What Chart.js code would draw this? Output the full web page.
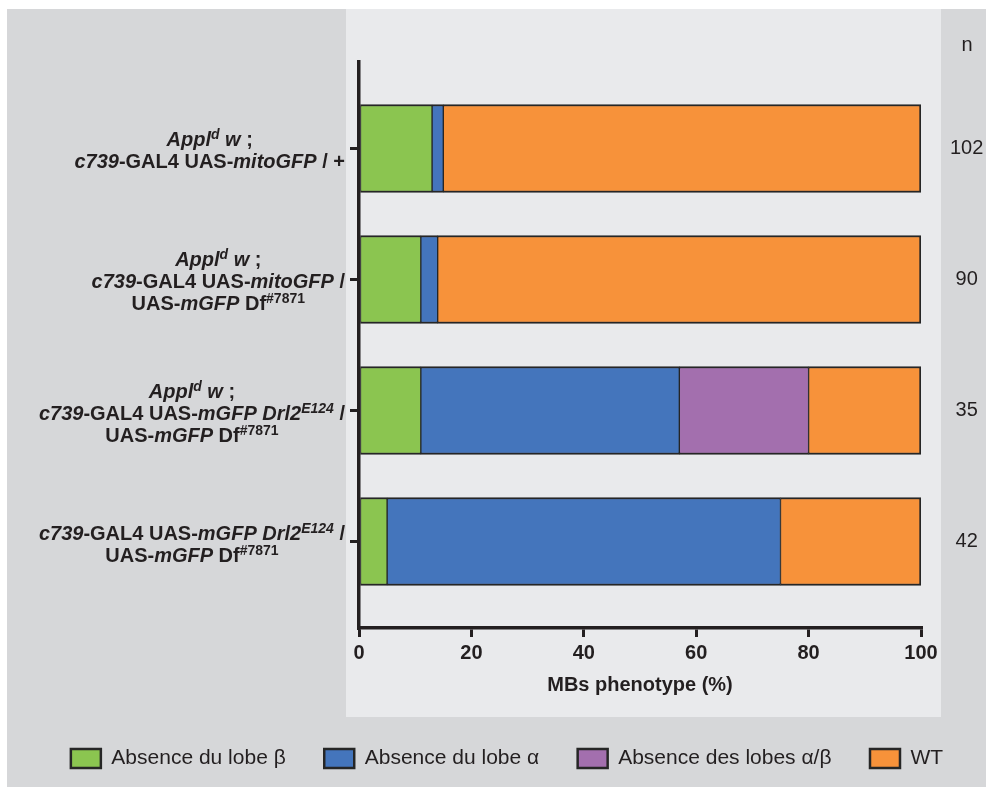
<!DOCTYPE html>
<html>
<head>
<meta charset="utf-8">
<script src="https://cdn.jsdelivr.net/npm/chart.js@4.4.1/dist/chart.umd.min.js"></script>
<style>
  html, body { margin: 0; padding: 0; background: #fff; }
</style>
</head>
<body>
<canvas id="myChart" width="986" height="787"></canvas>
<script>
// genotypes, one entry per bar, each line with *italic*, ^italic superscript^, ~superscript~
const genotipos = [
  ["*Appl*^d^ *w* ;", "*c739*-GAL4 UAS-*mitoGFP* / +"],
  ["*Appl*^d^ *w* ;", "*c739*-GAL4 UAS-*mitoGFP* /", "UAS-*mGFP* Df~#7871~"],
  ["*Appl*^d^ *w* ;", "*c739*-GAL4 UAS-*mGFP Drl2*^E124^ /", "UAS-*mGFP* Df~#7871~"],
  ["*c739*-GAL4 UAS-*mGFP Drl2*^E124^ /", "UAS-*mGFP* Df~#7871~"],
];
const nMoscas = [102, 90, 35, 42];

const nombresSeries = ["Absence du lobe β", "Absence du lobe α", "Absence des lobes α/β", "WT"];
const lobeBeta = [13, 11, 11, 5];
const lobeAlpha = [2, 3, 46, 70];
const lobesAlphaBeta = [0, 0, 23, 0];
const tipoSalvaje = [85, 86, 20, 25];
const coloresSeries = ["#8bc550", "#4475bc", "#a36fae", "#f7923a"];

const xTicks = [0, 20, 40, 60, 80, 100];

const tinta = "#231f20";
const familia = "'Liberation Sans', Arial, Helvetica, sans-serif";
Chart.defaults.font.family = familia;
Chart.defaults.color = tinta;

// the index axis is numeric so the axis lines can run past the first and last bar
const yMin = -0.66;
const yMax = 3.66;

function hacerDataset(nombre, valores, color, ultimo) {
  return {
    label: nombre,
    data: valores.map((v, i) => ({ x: v, y: i })),
    backgroundColor: color,
    borderColor: "#262626",
    borderWidth: { top: 2, bottom: 2, left: 1, right: ultimo ? 2 : 1 },
    borderSkipped: false,
    barThickness: 88,
  };
}

const datasets = [
  hacerDataset(nombresSeries[0], lobeBeta, coloresSeries[0]),
  hacerDataset(nombresSeries[1], lobeAlpha, coloresSeries[1]),
  hacerDataset(nombresSeries[2], lobesAlphaBeta, coloresSeries[2]),
  hacerDataset(nombresSeries[3], tipoSalvaje, coloresSeries[3], true),
];

function partes(linea) {
  return linea.split(/(\*[^*]+\*|\^[^^]+\^|~[^~]+~)/).filter(Boolean).map((t) => {
    if (t[0] === "*") return { t: t.slice(1, -1), it: true, sup: false };
    if (t[0] === "^") return { t: t.slice(1, -1), it: true, sup: true };
    if (t[0] === "~") return { t: t.slice(1, -1), it: false, sup: true };
    return { t, it: false, sup: false };
  });
}

function fuente(p) {
  return (p.it ? "italic " : "") + "bold " + (p.sup ? 14 : 20) + "px " + familia;
}

const fondo = {
  id: "fondo",
  beforeDraw(chart) {
    const ctx = chart.ctx;
    const area = chart.chartArea;
    ctx.save();
    ctx.fillStyle = "#d6d7d9";
    ctx.fillRect(7, 9, chart.width - 7, chart.height - 9);
    ctx.fillStyle = "#e9eaec";
    ctx.fillRect(area.left - 13, 9, area.right - area.left + 33, 708);
    ctx.restore();
  },
};

const etiquetas = {
  id: "etiquetas",
  afterDraw(chart) {
    const ctx = chart.ctx;
    const y = chart.scales.y;
    const derecha = y.right - 14;
    const interlinea = 22;
    ctx.save();
    ctx.fillStyle = tinta;
    ctx.textBaseline = "alphabetic";
    ctx.textAlign = "left";
    genotipos.forEach((lineas, i) => {
      const centro = y.getPixelForValue(i);
      const medidas = lineas.map((l) => {
        const ps = partes(l);
        let ancho = 0;
        ps.forEach((p) => {
          ctx.font = fuente(p);
          p.w = ctx.measureText(p.t).width;
          ancho += p.w;
        });
        return { ps, ancho };
      });
      const maxAncho = Math.max(...medidas.map((m) => m.ancho));
      const centroX = derecha - maxAncho / 2;
      medidas.forEach((m, k) => {
        const base = centro + (k - (lineas.length - 1) / 2) * interlinea + 9;
        let x = centroX - m.ancho / 2;
        m.ps.forEach((p) => {
          ctx.font = fuente(p);
          ctx.fillText(p.t, x, p.sup ? base - 7 : base);
          x += p.w;
        });
      });
    });
    // column header for the counts
    ctx.font = "20px " + familia;
    ctx.textAlign = "center";
    ctx.textBaseline = "middle";
    ctx.fillText("n", 967, 45);
    ctx.restore();
  },
};

const config = {
  type: "bar",
  data: { datasets },
  options: {
    indexAxis: "y",
    responsive: false,
    animation: false,
    layout: { padding: { left: 28, top: 62, right: 0, bottom: 8 } },
    scales: {
      x: {
        type: "linear",
        stacked: true,
        min: 0,
        max: 100,
        afterBuildTicks: (s) => { s.ticks = xTicks.map((v) => ({ value: v })); },
        afterFit: (s) => { s.height = 81.5; },
        grid: { drawOnChartArea: false, tickLength: 9, color: tinta, lineWidth: 3 },
        border: { color: tinta, width: 3.5 },
        ticks: { color: tinta, padding: 4, font: { size: 20, weight: "bold" } },
        title: {
          display: true,
          text: "MBs phenotype (%)",
          color: tinta,
          font: { size: 20, weight: "bold" },
          padding: { top: 0, bottom: 12 },
        },
      },
      y: {
        type: "linear",
        stacked: true,
        reverse: true,
        offset: false,
        min: yMin,
        max: yMax,
        afterBuildTicks: (s) => { s.ticks = genotipos.map((g, i) => ({ value: i })); },
        afterFit: (s) => { s.width = 331; },
        ticks: { display: false },
        grid: { offset: false, drawOnChartArea: false, tickLength: 9, color: tinta, lineWidth: 3 },
        border: { color: tinta, width: 3.5 },
      },
      n: {
        type: "linear",
        position: "right",
        reverse: true,
        offset: false,
        min: yMin,
        max: yMax,
        afterBuildTicks: (s) => { s.ticks = nMoscas.map((v, i) => ({ value: i })); },
        afterFit: (s) => { s.width = 65; },
        grid: { display: false, offset: false, drawTicks: false },
        border: { display: false },
        ticks: {
          callback: (v) => nMoscas[v],
          crossAlign: "center",
          padding: 29,
          color: tinta,
          font: { size: 20 },
        },
      },
    },
    plugins: {
      tooltip: { enabled: false },
      legend: {
        position: "bottom",
        labels: {
          boxWidth: 30,
          boxHeight: 19,
          padding: 38.5,
          color: tinta,
          font: { size: 21 },
          generateLabels: (chart) =>
            Chart.defaults.plugins.legend.labels.generateLabels(chart).map((l) => ({ ...l, lineWidth: 2.5 })),
        },
      },
    },
  },
  plugins: [fondo, etiquetas],
};

new Chart(document.getElementById("myChart"), config);
</script>
</body>
</html>
